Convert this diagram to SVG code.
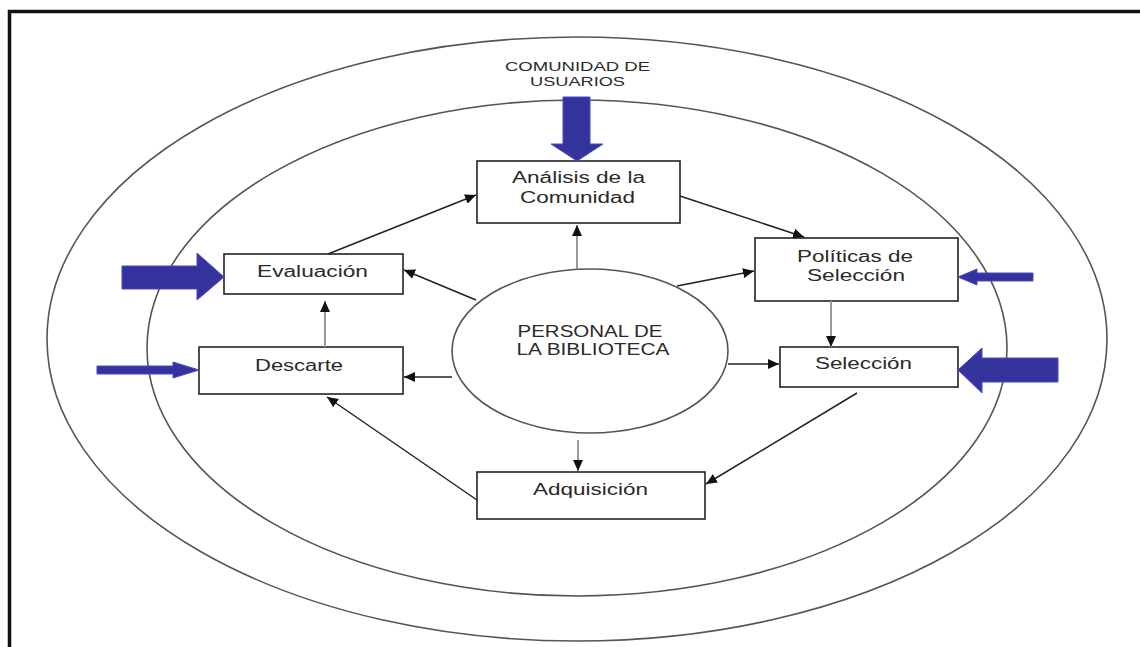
<svg xmlns="http://www.w3.org/2000/svg" width="1140" height="647" viewBox="0 0 1140 647">
<style>
.ring{fill:none;stroke:#555;stroke-width:1.6}
.box{fill:#fff;stroke:#222;stroke-width:1.6}
.t{font-family:"Liberation Sans",Arial,sans-serif;font-size:16px;fill:#2a2a2a;text-anchor:middle}
.ts{font-family:"Liberation Sans",Arial,sans-serif;font-size:13.5px;fill:#2a2a2a;text-anchor:middle}
.c{fill:none;stroke:#222;stroke-width:1.5;marker-end:url(#ah)}
.cg{fill:none;stroke:#999;stroke-width:2;marker-end:url(#ah)}
.blue{fill:#34349c;stroke:#4848c8;stroke-width:1}
</style>
<defs>
<marker id="ah" markerUnits="userSpaceOnUse" markerWidth="11" markerHeight="10" refX="11" refY="5" orient="auto">
<path d="M0,0 L11,5 L0,10 z" fill="#111"/>
</marker>
</defs>
<rect x="0" y="0" width="1140" height="647" fill="#fff"/>
<rect x="9.5" y="11.5" width="1200" height="700" fill="none" stroke="#111" stroke-width="3.5"/>
<g id="outer-ring"><ellipse class="ring" cx="577" cy="339" rx="530" ry="302"/></g>
<g id="inner-ring"><ellipse class="ring" cx="577" cy="348" rx="430" ry="248"/></g>
<g id="comunidad-usuarios">
<text class="ts" x="577.5" y="71" textLength="145" lengthAdjust="spacingAndGlyphs">COMUNIDAD DE</text>
<text class="ts" x="577.5" y="86" textLength="95" lengthAdjust="spacingAndGlyphs">USUARIOS</text>
</g>
<g id="personal">
<ellipse cx="590" cy="351" rx="138" ry="82" fill="#fff" stroke="#555" stroke-width="1.6"/>
<text class="t" x="590" y="337" textLength="145" lengthAdjust="spacingAndGlyphs">PERSONAL DE</text>
<text class="t" x="593" y="355" textLength="153" lengthAdjust="spacingAndGlyphs">LA BIBLIOTECA</text>
</g>
<g id="analisis">
<rect class="box" x="477" y="161" width="203" height="62"/>
<text class="t" x="578.5" y="183" textLength="133" lengthAdjust="spacingAndGlyphs">Análisis de la</text>
<text class="t" x="577.5" y="203" textLength="115" lengthAdjust="spacingAndGlyphs">Comunidad</text>
</g>
<g id="evaluacion">
<rect class="box" x="224" y="254" width="179" height="40"/>
<text class="t" x="312.5" y="277" textLength="111" lengthAdjust="spacingAndGlyphs">Evaluación</text>
</g>
<g id="descarte">
<rect class="box" x="199" y="347" width="204" height="47"/>
<text class="t" x="299" y="371" textLength="88" lengthAdjust="spacingAndGlyphs">Descarte</text>
</g>
<g id="politicas">
<rect class="box" x="755" y="238" width="203" height="63"/>
<text class="t" x="855" y="262" textLength="116" lengthAdjust="spacingAndGlyphs">Políticas de</text>
<text class="t" x="856" y="281" textLength="98" lengthAdjust="spacingAndGlyphs">Selección</text>
</g>
<g id="seleccion">
<rect class="box" x="780" y="347" width="178" height="40"/>
<text class="t" x="863.5" y="369" textLength="97" lengthAdjust="spacingAndGlyphs">Selección</text>
</g>
<g id="adquisicion">
<rect class="box" x="477" y="472" width="228" height="47"/>
<text class="t" x="590.5" y="495" textLength="115" lengthAdjust="spacingAndGlyphs">Adquisición</text>
</g>
<g id="connectors">
<line class="c" x1="328" y1="254" x2="476" y2="195"/>
<line class="c" x1="680" y1="196" x2="804" y2="237"/>
<line class="c" x1="677" y1="286" x2="754" y2="271"/>
<line class="cg" x1="831" y1="301" x2="831" y2="347"/>
<line class="c" x1="728" y1="364" x2="779" y2="364"/>
<line class="c" x1="857" y1="393" x2="706" y2="484"/>
<line class="cg" x1="578" y1="440" x2="578" y2="471"/>
<line class="c" x1="477" y1="500" x2="327" y2="397"/>
<line class="c" x1="452" y1="377" x2="404" y2="377"/>
<line class="cg" x1="325" y1="347" x2="325" y2="301"/>
<line class="c" x1="476" y1="300" x2="404" y2="270"/>
<line class="cg" x1="577" y1="269" x2="577" y2="225"/>
</g>
<g id="input-arrows">
<polygon class="blue" points="563,97 590,97 590,144 603,144 577,161 551,144 563,144"/>
<polygon class="blue" points="122,266 197,266 197,253 224,277 197,300 197,289 122,289"/>
<polygon class="blue" points="97,366 173,366 173,362 199,370 173,378 173,374 97,374"/>
<polygon class="blue" points="1033,273 977,273 977,269 958,277 977,285 977,281 1033,281"/>
<polygon class="blue" points="1058,358 982,358 982,348 958,370 982,393 982,382 1058,382"/>
</g>
</svg>
